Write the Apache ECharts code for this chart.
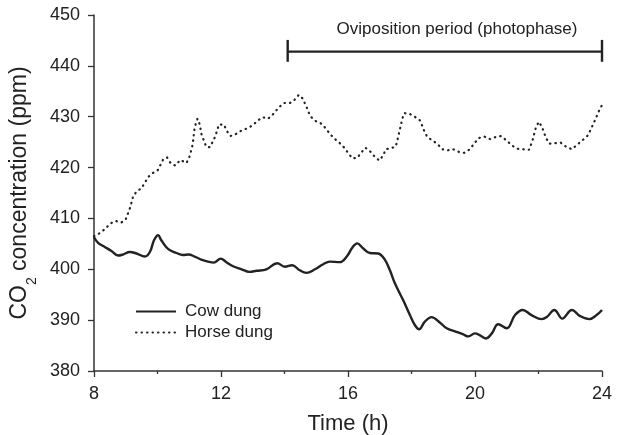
<!DOCTYPE html>
<html>
<head>
<meta charset="utf-8">
<script src="https://cdn.jsdelivr.net/npm/echarts@6/dist/echarts.min.js"></script>
<style>
html,body{margin:0;padding:0;background:#fff;}
#chart{width:623px;height:435px;}
</style>
</head>
<body>
<div id="chart"></div>
<script>
// time (h) / CO2 (ppm)
var cowTime = [8.0,8.13,8.34,8.55,8.76,8.91,9.13,9.34,9.6,9.76,9.89,10.02,10.12,10.33,10.6,10.8,10.98,11.17,11.38,11.59,11.77,11.99,12.17,12.38,12.65,12.89,13.12,13.43,13.77,14.01,14.24,14.48,14.69,14.96,15.22,15.43,15.74,15.96,16.14,16.29,16.48,16.69,16.95,17.16,17.32,17.48,17.74,17.95,18.11,18.24,18.42,18.63,18.9,19.11,19.37,19.63,19.79,20.0,20.16,20.35,20.53,20.73,21.0,21.26,21.5,21.78,22.1,22.26,22.5,22.75,23.05,23.31,23.6,23.83,24.0];
var cowCO2 = [406.3,405.2,404.4,403.6,402.7,402.9,403.4,403.1,402.5,403.4,405.7,406.7,405.7,404.0,403.2,402.8,402.9,402.5,401.9,401.5,401.3,402.1,401.4,400.6,400.0,399.5,399.7,400.0,401.2,400.5,400.8,399.8,399.3,400.0,401.0,401.5,401.4,402.5,404.3,405.1,404.1,403.2,403.1,401.9,399.8,397.2,393.9,391.0,389.0,388.2,389.7,390.6,389.5,388.4,387.8,387.2,386.8,387.4,387.0,386.4,387.4,389.2,388.4,391.0,392.0,391.0,390.2,390.6,392.0,390.3,392.0,390.8,390.2,391.0,392.0];

var horseTime = [8.0,8.18,8.34,8.52,8.68,8.86,9.0,9.07,9.13,9.18,9.23,9.34,9.49,9.6,9.7,9.84,10.0,10.09,10.17,10.3,10.42,10.56,10.72,10.91,10.99,11.04,11.09,11.12,11.14,11.16,11.2,11.26,11.33,11.39,11.47,11.53,11.65,11.75,11.83,11.88,11.94,12.1,12.17,12.3,12.47,12.65,12.82,13.0,13.15,13.31,13.48,13.66,13.8,13.98,14.17,14.3,14.45,14.57,14.65,14.73,14.8,14.96,15.14,15.27,15.41,15.55,15.71,15.87,16.0,16.14,16.29,16.41,16.55,16.71,16.86,16.99,17.11,17.19,17.35,17.5,17.55,17.59,17.63,17.67,17.71,17.77,17.93,18.1,18.26,18.34,18.4,18.5,18.64,18.81,18.97,19.14,19.31,19.49,19.66,19.84,19.97,20.12,20.29,20.47,20.65,20.82,21.0,21.17,21.34,21.52,21.7,21.77,21.83,21.87,21.92,22.01,22.11,22.17,22.24,22.34,22.52,22.7,22.87,23.05,23.22,23.39,23.55,23.64,23.72,23.8,23.88,23.96,24.0];
var horseCO2 = [406.5,407.1,407.9,409.0,409.5,409.2,409.8,411.0,412.0,413.1,414.3,415.3,415.9,417.0,418.1,418.9,419.4,420.5,421.5,422.0,420.8,420.4,421.5,420.9,421.8,422.9,424.0,425.2,426.3,427.4,428.5,429.6,428.5,426.4,425.2,424.1,424.0,425.2,426.3,427.4,428.5,428.4,427.3,426.2,426.6,427.3,427.7,428.3,429.2,429.9,429.6,430.6,431.7,432.7,432.7,433.2,434.3,433.6,432.5,431.4,430.2,429.2,428.7,427.9,426.8,425.8,425.0,424.0,422.9,421.8,421.9,422.9,423.9,423.1,422.0,421.4,422.4,423.6,423.8,424.1,425.2,426.3,427.4,428.5,429.6,430.7,430.6,430.0,429.3,428.2,427.2,426.0,425.4,424.7,423.6,423.4,423.6,423.1,422.9,423.6,424.7,425.8,426.1,425.6,426.0,426.2,425.3,424.3,423.7,423.6,423.5,424.6,425.7,426.8,427.9,429.0,428.0,426.9,425.8,424.7,424.8,424.9,424.1,423.6,424.5,425.4,426.3,427.4,428.5,429.6,430.8,431.9,432.2];

// oviposition period bracket: start, end, level, cap top, cap bottom
var period = [14.1, 24, 442.8, 445.1, 440.8];
var periodText = 'Oviposition period (photophase)';

function pairs(xs, ys){
	var out = [];
	for(var i=0;i<xs.length;i++){
		out.push([xs[i], ys[i]]);
	}
	return out;
}

var ink = '#222';
var font = 'Liberation Sans, Arial, sans-serif';

var chart = echarts.init(document.getElementById('chart'));
var option = {
	backgroundColor: '#fff',
	animation: false,
	title: {
		text: periodText,
		left: 452,
		top: 16,
		textAlign: 'center',
		textStyle: {fontFamily: font, fontSize: 17, fontWeight: 'normal', color: ink}
	},
	grid: {left: 94, right: 21, top: 15, bottom: 64, outerBoundsMode: 'none'},
	legend: {
		orient: 'vertical',
		left: 130,
		top: 298,
		itemWidth: 40,
		itemHeight: 14,
		itemGap: 4,
		itemStyle: {opacity: 0},
		data: ['Cow dung', 'Horse dung'],
		textStyle: {fontFamily: font, fontSize: 17, color: ink, lineHeight: 17, padding: [0,0,0,4]}
	},
	xAxis: {
		type: 'value',
		min: 8,
		max: 24,
		interval: 4,
		name: 'Time (h)',
		nameLocation: 'middle',
		nameGap: 42,
		nameTextStyle: {fontFamily: font, fontSize: 22, color: ink},
		axisLine: {lineStyle: {color: '#333', width: 1.5}},
		axisTick: {show: true, length: 6, lineStyle: {color: '#333', width: 1.3}},
		minorTick: {show: true, splitNumber: 2, length: 3, lineStyle: {color: '#333', width: 1.3}},
		axisLabel: {fontFamily: font, fontSize: 18, color: ink, margin: 14},
		splitLine: {show: false}
	},
	yAxis: {
		type: 'value',
		min: 380,
		max: 450,
		interval: 10,
		name: '{a|CO}{s|2}{a| concentration (ppm)}',
		nameLocation: 'middle',
		nameGap: 55,
		nameTextStyle: {
			fontFamily: font, color: ink,
			rich: {
				a: {fontFamily: font, fontSize: 23, color: ink, lineHeight: 26},
				s: {fontFamily: font, fontSize: 14, color: ink, lineHeight: 26, verticalAlign: 'bottom', padding: [0,0,-6,0]}
			}
		},
		axisLine: {show: true, lineStyle: {color: '#333', width: 1.5}},
		axisTick: {show: true, length: 6, lineStyle: {color: '#333', width: 1.3}},
		axisLabel: {fontFamily: font, fontSize: 18, color: ink, margin: 14},
		splitLine: {show: false}
	},
	series: [
		{
			name: 'Cow dung',
			type: 'line',
			data: pairs(cowTime, cowCO2),
			smooth: 0.4,
			symbol: 'none',
			lineStyle: {color: ink, width: 2.4},
			itemStyle: {color: ink}
		},
		{
			name: 'Horse dung',
			type: 'line',
			data: pairs(horseTime, horseCO2),
			symbol: 'none',
			lineStyle: {color: ink, width: 2.2, type: [0.5, 5], cap: 'round'},
			itemStyle: {color: ink}
		},
		{
			type: 'custom',
			silent: true,
			clip: false,
			data: [period],
			renderItem: function(params, api){
				var a = api.coord([api.value(0), api.value(2)]);
				var b = api.coord([api.value(1), api.value(2)]);
				var top = api.coord([api.value(0), api.value(3)])[1];
				var bot = api.coord([api.value(0), api.value(4)])[1];
				var st = {stroke: ink, lineWidth: 2.4};
				return {
					type: 'group',
					children: [
						{type: 'line', shape: {x1: a[0], y1: a[1], x2: b[0], y2: b[1]}, style: st},
						{type: 'line', shape: {x1: a[0], y1: top, x2: a[0], y2: bot}, style: st},
						{type: 'line', shape: {x1: b[0], y1: top, x2: b[0], y2: bot}, style: st}
					]
				};
			}
		}
	]
};
chart.setOption(option);
</script>
</body>
</html>
